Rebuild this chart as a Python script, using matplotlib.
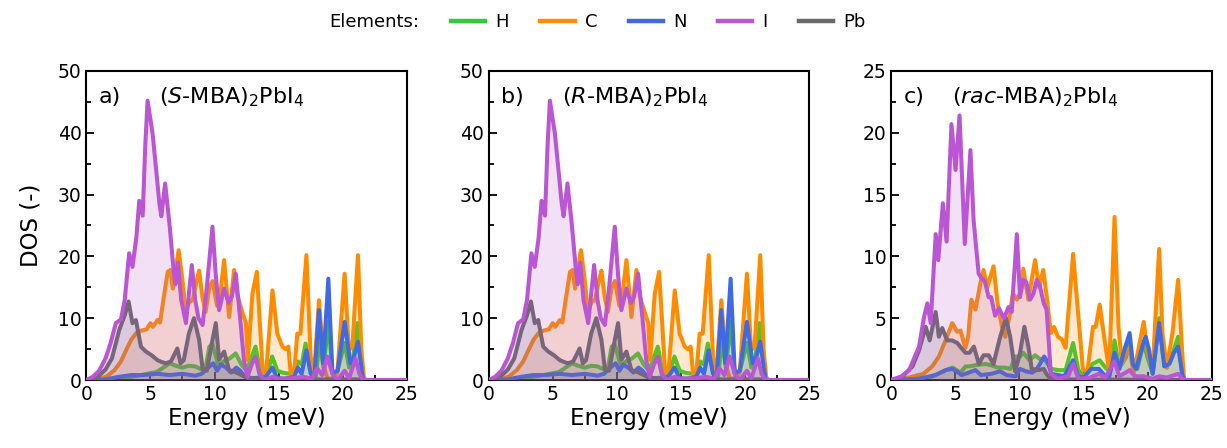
import matplotlib
matplotlib.use("Agg")
import matplotlib.pyplot as plt
from matplotlib.lines import Line2D
from matplotlib.ticker import MultipleLocator

# ---------------- data (Energy in meV, DOS) ----------------
elements = ["H", "C", "N", "I", "Pb"]
colors = {"H": "limegreen", "C": "darkorange", "N": "royalblue",
          "I": "mediumorchid", "Pb": "dimgray"}

panel_letters = ["a)", "b)", "c)"]
panel_titles = [r"($S$-MBA)$_2$PbI$_4$", r"($R$-MBA)$_2$PbI$_4$",
                r"($rac$-MBA)$_2$PbI$_4$"]
ymax = [50, 50, 25]

# (S-MBA)2PbI4  -- (R-MBA)2PbI4 is indistinguishable at this resolution
S_H_E = [0, 2.5, 3.5, 4.5, 5.5, 6.0, 6.5, 7.0, 7.5, 8.0, 8.5, 9.0, 9.3, 9.6, 9.85, 10.3,
         10.7, 11.2, 11.65, 12.1, 12.5, 13.2, 13.6, 14.0, 14.5, 14.9, 15.3, 15.9, 16.2,
         16.5, 16.8, 17.1, 17.5, 17.9, 18.2, 18.5, 18.9, 19.2, 19.6, 20.15, 20.5, 20.8,
         21.15, 21.6, 25]
S_H_D = [0, 0.2, 0.5, 0.9, 1.3, 2.0, 2.7, 2.3, 2.0, 2.3, 2.2, 1.7, 2.0, 5.4, 5.8, 2.3,
         3.0, 3.5, 4.3, 2.5, 1.5, 5.4, 1.0, 0.5, 3.8, 1.5, 1.2, 1.0, 0.5,
         3.0, 2.5, 5.9, 1.5, 0.5, 6.5, 2.0, 9.5, 1.0, 1.5, 6.0, 2.0, 3.5,
         9.2, 0, 0]

S_C_E = [0, 1.0, 1.6, 2.2, 2.7, 3.1, 3.5, 3.9, 4.3, 4.7, 5.0, 5.2, 5.55, 5.75, 6.05,
         6.35, 6.55, 6.75, 7.2, 7.5, 7.75, 8.0, 8.3, 8.6, 8.8, 9.05, 9.3, 9.6, 9.85,
         10.2, 10.45, 10.75, 11.14, 11.53, 11.8, 12.2, 12.45, 12.6, 12.96, 13.3, 13.74,
         14.0, 14.52, 14.9, 15.3, 15.55, 15.76, 15.94, 16.2, 16.46, 16.7, 17.17, 17.5,
         17.77, 18.15, 18.54, 18.8, 19.1, 19.58, 20.15, 20.48, 20.75, 21.19, 21.45,
         21.65, 21.8, 25]
S_C_D = [0, 0.1, 0.6, 1.6, 3.0, 4.8, 6.5, 7.6, 8.0, 8.2, 9.2, 8.6, 9.7, 9.3, 13.5,
         17.5, 17.8, 14.8, 21.0, 16.2, 11.0, 12.5, 13.0, 16.0, 17.7, 13.5, 11.0, 15.0, 16.0,
         12.0, 14.0, 19.4, 10.2, 17.8, 13.5, 10.8, 9.2, 3.2, 14.0, 17.5, 2.2,
         0.5, 14.5, 7.5, 5.4, 5.0, 5.4, 1.1, 1.0, 7.5, 7.5, 20.2, 3.8,
         1.1, 12.9, 2.2, 0.3, 0.2, 1.1, 17.2, 4.8, 5.5, 20.2, 5.0,
         0.5, 0, 0]

S_N_E = [0, 1.5, 2.5, 3.5, 4.5, 5.5, 6.5, 7.5, 8.5, 9.0, 9.5, 9.9, 10.2, 10.5, 10.9,
         11.3, 11.7, 12.0, 12.4, 13.0, 14.0, 14.5, 14.9, 15.5, 16.2, 16.5, 16.8, 17.17,
         17.5, 17.8, 18.15, 18.47, 18.88, 19.2, 19.6, 20.15, 20.6, 20.85, 21.19, 21.6, 25]
S_N_D = [0, 0.1, 0.5, 0.8, 0.8, 1.0, 0.8, 1.0, 0.7, 1.0, 2.0, 2.7, 1.5, 2.5, 2.0,
         1.2, 2.0, 1.5, 0.5, 0.3, 0.5, 2.0, 0.3, 0.2, 0.5, 2.0, 1.0, 4.8,
         1.0, 0.8, 11.3, 2.7, 16.4, 1.1, 1.5, 9.4, 2.7, 3.5, 6.2, 0, 0]

S_I_E = [0, 0.5, 1.0, 1.5, 1.9, 2.3, 2.7, 3.0, 3.34, 3.6, 3.9, 4.13, 4.4, 4.6, 4.78,
         5.17, 5.45, 5.7, 5.85, 6.15, 6.5, 6.8, 6.95, 7.15, 7.4, 7.77, 8.23, 8.5, 8.75,
         9.07, 9.4, 9.84, 10.1, 10.36, 10.75, 11.1, 11.35, 11.66, 12.0, 12.3, 12.57,
         12.9, 13.2, 13.5, 13.9, 14.5, 15.0, 16.0, 17.0, 17.6, 18.0, 18.4, 18.8, 19.2,
         19.6, 20.15, 20.5, 21.0, 21.3, 21.6, 25]
S_I_D = [0, 0.5, 1.5, 3.5, 6.0, 9.2, 9.8, 13.0, 20.5, 18.3, 23.0, 29.0, 26.6, 38.0, 45.2,
         39.9, 34.0, 28.6, 26.5, 31.8, 25.0, 18.0, 15.5, 19.0, 13.0, 9.2, 18.6, 12.9, 10.0,
         8.9, 15.0, 24.8, 17.0, 11.3, 14.8, 12.5, 13.5, 17.2, 10.0, 3.2, 0.5,
         2.5, 3.8, 1.0, 0, 0.5, 0.2, 0.3, 0.5, 0.2, 1.9, 0.8, 3.8, 1.0,
         0, 1.5, 0.3, 3.5, 1.0, 0, 0]

S_Pb_E = [0, 0.8, 1.5, 2.0, 2.57, 3.0, 3.3, 3.6, 3.87, 4.26, 4.65, 5.1, 5.56, 5.9, 6.2,
          6.6, 7.1, 7.35, 7.6, 8.0, 8.4, 8.8, 9.07, 9.4, 9.8, 10.1, 10.36, 10.75, 11.14,
          11.6, 11.9, 12.6, 14.0, 18.0, 21.5, 21.7, 25]
S_Pb_D = [0, 0.3, 1.7, 3.5, 8.1, 10.5, 12.7, 9.2, 9.7, 5.4, 4.6, 4.0, 3.2, 2.9, 2.7,
          3.0, 5.1, 2.7, 3.2, 7.5, 10.0, 6.5, 1.8, 1.5, 6.0, 9.2, 3.3, 4.6, 1.6,
          1.3, 1.0, 0.3, 0.2, 0.1, 0.1, 0, 0]

# (rac-MBA)2PbI4
rac_H_E = [0, 3.0, 4.5, 4.8, 5.4, 5.8, 6.05, 6.6, 7.35, 7.8, 8.3, 8.9, 9.3, 9.67, 10.05,
           10.3, 10.8, 11.22, 11.6, 12.0, 12.5, 13.0, 13.6, 14.19, 14.6, 15.0, 15.7, 16.26,
           16.8, 17.1, 17.42, 17.8, 18.3, 18.6, 18.9, 19.2, 19.7, 20.0, 20.4, 20.9, 21.2,
           21.5, 22.0, 22.38, 22.7, 22.85, 25]
rac_H_D = [0, 0.2, 0.9, 1.0, 0.6, 1.1, 1.1, 1.2, 1.3, 1.2, 1.0, 1.0, 0.9, 1.9, 1.9,
           2.2, 1.6, 2.0, 1.7, 1.6, 0.9, 0.8, 0.8, 3.0, 0.8, 0.3, 1.3, 1.6,
           0.9, 0.8, 3.2, 1.0, 1.8, 3.0, 1.2, 0.9, 3.0, 1.8, 0.5, 5.0, 2.0,
           1.0, 2.3, 3.5, 0.5, 0, 0]

rac_C_E = [0, 1.4, 2.5, 3.2, 3.72, 4.24, 4.76, 5.15, 5.4, 5.79, 6.0, 6.25, 6.57, 6.95,
           7.2, 7.5, 7.98, 8.3, 8.64, 8.9, 9.2, 9.5, 9.8, 10.05, 10.3, 10.7, 11.22, 11.53,
           11.86, 12.1, 12.45, 12.7, 13.0, 13.3, 13.6, 14.19, 14.58, 14.96, 15.3, 15.74,
           15.95, 16.26, 16.65, 17.0, 17.42, 17.73, 18.0, 18.3, 18.6, 18.9, 19.36, 19.7,
           20.0, 20.39, 20.9, 21.16, 21.5, 21.94, 22.38, 22.7, 22.85, 25]
rac_C_D = [0, 0.2, 0.5, 1.1, 1.9, 3.2, 4.6, 3.9, 4.0, 2.6, 3.5, 6.5, 5.7, 7.8,
           8.9, 7.5, 9.2, 6.2, 4.3, 3.5, 5.0, 7.0, 6.5, 7.0, 9.0, 6.5, 9.7, 7.5,
           8.9, 7.0, 3.8, 4.3, 3.5, 3.3, 2.6, 10.2, 5.4, 0.8, 0.7, 4.3,
           4.3, 6.1, 3.2, 0.7, 13.2, 4.3, 1.3, 2.0, 2.6, 0.5, 2.9, 4.7,
           2.2, 0.8, 10.6, 3.8, 1.0, 3.8, 8.1, 2.2, 0, 0]

rac_N_E = [0, 2.17, 3.47, 4.24, 4.76, 5.1, 5.5, 5.79, 6.57, 7.0, 7.8, 8.5, 9.0, 9.7,
           10.05, 10.5, 11.0, 11.3, 11.6, 11.93, 12.2, 12.5, 13.5, 14.19, 14.58, 15.0,
           15.6, 16.2, 16.7, 17.0, 17.42, 17.8, 18.2, 18.6, 18.85, 19.1, 19.73, 19.85,
           20.1, 20.4, 20.9, 21.3, 21.7, 22.05, 22.38, 22.7, 22.85, 25]
rac_N_D = [0, 0.1, 0.4, 0.8, 0.9, 0.7, 0.4, 0.5, 0.8, 0.4, 0.5, 0.7, 0.4, 0.3,
           0.9, 0.7, 0.6, 0.8, 1.3, 1.9, 1.5, 0.5, 0.3, 1.6, 0.3, 0.2,
           0.9, 0.9, 0.3, 0.2, 2.2, 0.9, 2.5, 3.8, 1.3, 0.9, 3.2, 3.5,
           2.5, 0.5, 4.6, 1.1, 1.3, 2.2, 2.7, 0.5, 0, 0]

rac_I_E = [0, 0.8, 1.4, 2.17, 2.56, 2.82, 3.08, 3.47, 3.67, 4.03, 4.32, 4.7, 5.02, 5.33,
           5.74, 6.18, 6.43, 6.82, 7.0, 7.3, 7.6, 7.8, 8.1, 8.4, 8.8, 9.15, 9.4, 9.8,
           10.05, 10.3, 10.55, 10.83, 11.1, 11.35, 11.6, 11.9, 12.12, 12.3, 12.45, 13.0,
           13.8, 14.2, 14.6, 15.5, 16.2, 16.7, 17.4, 17.8, 18.6, 19.0, 19.7, 20.4, 20.9,
           21.5, 22.4, 22.7, 23.0, 25]
rac_I_D = [0, 0.3, 0.8, 2.7, 5.1, 6.2, 4.6, 11.8, 9.7, 14.3, 11.2, 20.7, 17.0, 21.4,
           11.0, 18.6, 12.9, 8.6, 8.3, 8.0, 6.7, 6.7, 5.2, 5.8, 5.0, 5.9, 5.5, 11.8,
           6.7, 8.1, 7.9, 6.5, 7.0, 8.1, 7.6, 6.2, 5.7, 3.0, 0.5, 0.1,
           0.3, 1.3, 0.1, 0.2, 0.5, 0.2, 1.5, 0.3, 0.8, 0.3, 0.3, 0.1, 0.3,
           0.2, 0.5, 0.1, 0, 0]

rac_Pb_E = [0, 0.6, 1.66, 2.17, 2.69, 3.0, 3.47, 3.72, 3.98, 4.37, 4.76, 5.15, 5.54, 5.8,
            6.1, 6.45, 6.84, 7.2, 7.6, 7.98, 8.5, 8.95, 9.28, 9.67, 10.05, 10.39, 10.7,
            10.96, 11.5, 11.9, 12.1, 12.4, 13.0, 22.8, 25]
rac_Pb_D = [0, 0, 1.1, 2.4, 4.3, 3.2, 5.5, 3.5, 4.2, 3.2, 3.2, 3.0, 2.5, 2.2,
            2.2, 2.7, 1.3, 2.0, 2.0, 1.3, 3.5, 5.0, 3.5, 0.7, 2.2, 4.3, 2.7,
            0.9, 0.8, 0.9, 0.5, 0.1, 0.05, 0, 0]

S_data = {"H": (S_H_E, S_H_D), "C": (S_C_E, S_C_D), "N": (S_N_E, S_N_D),
          "I": (S_I_E, S_I_D), "Pb": (S_Pb_E, S_Pb_D)}
rac_data = {"H": (rac_H_E, rac_H_D), "C": (rac_C_E, rac_C_D), "N": (rac_N_E, rac_N_D),
            "I": (rac_I_E, rac_I_D), "Pb": (rac_Pb_E, rac_Pb_D)}
panels = [S_data, S_data, rac_data]

# ---------------- figure ----------------
plt.rcParams["font.family"] = ["DejaVu Sans"]
plt.rcParams["mathtext.fontset"] = "dejavusans"
W, H = 1227, 448
fig = plt.figure(figsize=(W / 100, H / 100), dpi=100)

lefts = [86.3, 488.6, 891.2]
ax_w = 320.5
ax_bottom, ax_top = 380, 71
zorders = {"H": 2, "C": 3, "N": 4, "Pb": 5, "I": 6}

axes = []
for i, data in enumerate(panels):
    ax = fig.add_axes([lefts[i] / W, 1 - ax_bottom / H, ax_w / W, (ax_bottom - ax_top) / H])
    axes.append(ax)
    for el in elements:
        E, D = data[el]
        ax.fill_between(E, D, 0, color=colors[el], alpha=0.18, linewidth=0,
                        zorder=zorders[el])
        ax.plot(E, D, color=colors[el], lw=2.9, zorder=zorders[el] + 0.5,
                solid_joinstyle="round", solid_capstyle="round")
    ax.set_xlim(0, 25)
    ax.set_ylim(0, ymax[i])
    ax.xaxis.set_major_locator(MultipleLocator(5))
    ax.xaxis.set_minor_locator(MultipleLocator(2.5))
    if ymax[i] == 50:
        ax.yaxis.set_major_locator(MultipleLocator(10))
        ax.yaxis.set_minor_locator(MultipleLocator(5))
    else:
        ax.yaxis.set_major_locator(MultipleLocator(5))
        ax.yaxis.set_minor_locator(MultipleLocator(2.5))
    ax.tick_params(which="both", direction="in", top=False, right=False,
                   labelsize=13.5, width=1.3)
    ax.tick_params(which="major", length=6)
    ax.tick_params(which="minor", length=3.5)
    for sp in ax.spines.values():
        sp.set_linewidth(1.5)
    ax.set_xlabel("Energy (meV)", fontsize=16.5, labelpad=2)
    tx = [0.228, 0.228, 0.189][i]
    ax.text(0.04, 0.896, panel_letters[i], transform=ax.transAxes, fontsize=16,
            va="baseline", ha="left")
    ax.text(tx, 0.896, panel_titles[i], transform=ax.transAxes, fontsize=16,
            va="baseline", ha="left")

axes[0].set_ylabel("DOS (-)", fontsize=16.5, labelpad=11)

handles = [Line2D([], [], color="none")] + [Line2D([], [], color=colors[e], lw=3.2)
                                             for e in elements]
labels = ["Elements:"] + elements
fig.legend(handles, labels, loc="center left", bbox_to_anchor=(269 / W, 1 - 22 / H),
           ncol=6, frameon=False, fontsize=13, handlelength=1.9, handletextpad=0.55,
           columnspacing=1.75, borderaxespad=0.5, borderpad=0.4)

fig.savefig("out.png", dpi=100)
